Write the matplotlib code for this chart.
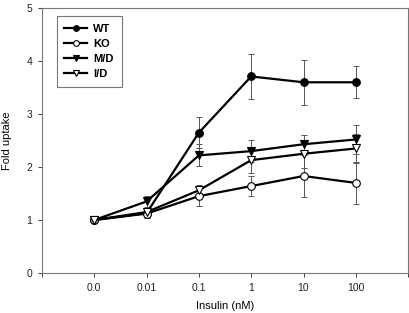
import matplotlib
matplotlib.use("Agg")
import matplotlib.pyplot as plt

plt.rcParams['font.family'] = ['Liberation Sans', 'DejaVu Sans']

doses = ['0.0', '0.01', '0.1', '1', '10', '100']

wt = [1.0, 1.13, 2.65, 3.71, 3.60, 3.60]
wt_err = [0.0, 0.10, 0.29, 0.42, 0.43, 0.30]
ko = [1.0, 1.12, 1.45, 1.64, 1.83, 1.70]
ko_err = [0.0, 0.08, 0.18, 0.19, 0.40, 0.39]
md = [1.0, 1.35, 2.22, 2.30, 2.43, 2.52]
md_err = [0.0, 0.10, 0.21, 0.21, 0.18, 0.27]
id_ = [1.0, 1.15, 1.56, 2.13, 2.25, 2.35]
id_err = [0.0, 0.08, 0.10, 0.24, 0.26, 0.27]

series = [
    ('WT', wt, wt_err, 'o', 'black'),
    ('KO', ko, ko_err, 'o', 'white'),
    ('M/D', md, md_err, 'v', 'black'),
    ('I/D', id_, id_err, 'v', 'white'),
]

fig = plt.figure(figsize=(4.10, 3.13), dpi=100)
ax = fig.add_axes([0.1024, 0.128, 0.893, 0.846])

x = list(range(len(doses)))
for name, y, err, mk, fc in series:
    ax.errorbar(x, y, yerr=err, fmt='none', ecolor='#555555', elinewidth=0.7,
                capsize=2.5, capthick=0.7, zorder=2)
    ax.plot(x, y, color='black', lw=1.6, marker=mk, markersize=5.5,
            markerfacecolor=fc, markeredgecolor='black', markeredgewidth=0.8,
            label=name, zorder=3)

ax.set_xlim(-1, 6)
ax.set_ylim(0, 5)
ax.set_xticks(range(-1, 7))
ax.set_xticklabels([''] + doses + [''])
ax.set_yticks(range(0, 6))
ax.tick_params(labelsize=7.5, length=3, width=0.6, colors='#222222', pad=4)

for s in ax.spines.values():
    s.set_color('#777777')
    s.set_linewidth(0.8)

ax.set_xlabel('Insulin (nM)', fontsize=8, labelpad=6)
ax.set_ylabel('Fold uptake', fontsize=8, labelpad=10)

leg = ax.legend(loc='upper left', bbox_to_anchor=(0.025, 0.99),
                frameon=True, fancybox=False, edgecolor='#555555',
                handlelength=2.0, handletextpad=0.6, borderpad=0.7,
                labelspacing=0.45, markerscale=0.75,
                prop={'weight': 'bold', 'size': 8})
leg.get_frame().set_linewidth(0.8)

fig.savefig('out.png', dpi=100)
